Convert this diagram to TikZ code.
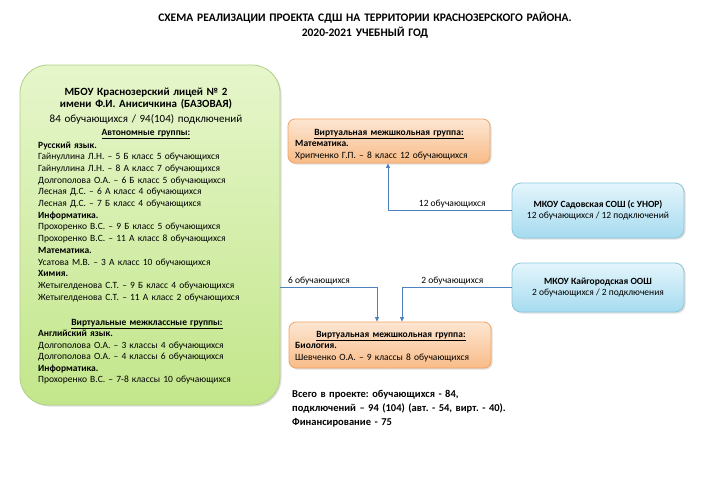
\documentclass[tikz,border=0pt]{standalone}
\usepackage{fontspec}
\setmainfont{Carlito}
\usetikzlibrary{shadows,arrows.meta}
\frenchspacing
\definecolor{grnTop}{HTML}{E6F6CB}
\definecolor{grnBot}{HTML}{C3E68B}
\definecolor{grnLine}{HTML}{B0D088}
\definecolor{orTop}{HTML}{FDE6D2}
\definecolor{orBot}{HTML}{F8BC88}
\definecolor{orLine}{HTML}{F3A261}
\definecolor{blTop}{HTML}{E4F5FC}
\definecolor{blBot}{HTML}{A6DBEF}
\definecolor{blLine}{HTML}{8CC6DA}
\definecolor{arrowBlue}{HTML}{4F81BD}
\begin{document}
\begin{tikzpicture}[x=1pt,y=-1pt,
  boxbase/.style={inner sep=0pt, line width=0.8pt,
    drop shadow={opacity=0.25, shadow xshift=1.5pt, shadow yshift=-1.5pt}},
  greenbox/.style={boxbase, draw=grnLine, top color=grnTop, bottom color=grnBot, rounded corners=28pt},
  orangebox/.style={boxbase, draw=orLine, top color=orTop, bottom color=orBot, rounded corners=7pt},
  bluebox/.style={boxbase, draw=blLine, top color=blTop, bottom color=blBot, rounded corners=9pt,
    align=center, font=\fontsize{9.5}{11}\selectfont},
  bodytext/.style={inner sep=0pt, anchor=base west, text width=240pt, align=left},
  centertext/.style={inner sep=0pt, anchor=base, text width=300pt, align=center},
  conn/.style={draw=arrowBlue, line width=0.8pt, -{Triangle[length=4.5pt,width=4pt]}},
  connlabel/.style={font=\fontsize{9.5}{11}\selectfont, inner sep=2pt}
]
\useasboundingbox (0,0) rectangle (715,480);

% Title
\node[centertext, text width=500pt, font=\bfseries\fontsize{11.5}{15}\selectfont] (title) at (365,21)
  {СХЕМА РЕАЛИЗАЦИИ ПРОЕКТА СДШ НА ТЕРРИТОРИИ КРАСНОЗЕРСКОГО РАЙОНА.\\2020-2021 УЧЕБНЫЙ ГОД};

% Boxes
\node[greenbox, minimum width=260pt, minimum height=340pt] (lyceum) at (150,235) {};
\node[orangebox, minimum width=202pt, minimum height=44pt] (topgrp) at (389,141) {};
\node[orangebox, minimum width=202pt, minimum height=46pt] (botgrp) at (390,345) {};
\node[bluebox, minimum width=172pt, minimum height=55pt] (sad) at (598,210.5)
  {\textbf{МКОУ Садовская СОШ (с УНОР)}\\12 обучающихся / 12 подключений};
\node[bluebox, minimum width=172pt, minimum height=49pt] (kai) at (598,287.5)
  {\textbf{МКОУ Кайгородская ООШ}\\2 обучающихся / 2 подключения};

% Lyceum header
\node[centertext, font=\bfseries\fontsize{11}{13}\selectfont] (h1) at (146,95) {МБОУ Краснозерский лицей № 2};
\node[centertext, font=\bfseries\fontsize{11}{13}\selectfont] (h2) at (146,107.5) {имени Ф.И. Анисичкина (БАЗОВАЯ)};
\node[centertext, font=\fontsize{11}{13}\selectfont] (h3) at (146,122.5) {84 обучающихся / 94(104) подключений};
\node[centertext, font=\bfseries\fontsize{9.5}{11}\selectfont] (h4) at (146,135) {\underline{Автономные группы:}};

\node[bodytext, font=\fontsize{9.5}{11.7}\selectfont] (autolist) at (38,148)
  {\textbf{Русский язык.}\\
   Гайнуллина Л.Н. – 5 Б класс 5 обучающихся\\
   Гайнуллина Л.Н. – 8 А класс 7 обучающихся\\
   Долгополова О.А. – 6 Б класс 5 обучающихся\\
   Лесная Д.С. – 6 А класс 4 обучающихся\\
   Лесная Д.С. – 7 Б класс 4 обучающихся\\
   \textbf{Информатика.}\\
   Прохоренко В.С. – 9 Б класс 5 обучающихся\\
   Прохоренко В.С. – 11 А класс 8 обучающихся\\
   \textbf{Математика.}\\
   Усатова М.В. – 3 А класс 10 обучающихся\\
   \textbf{Химия.}\\
   Жетыгелденова С.Т. – 9 Б класс 4 обучающихся\\
   Жетыгелденова С.Т. – 11 А класс 2 обучающихся};

\node[centertext, font=\bfseries\fontsize{9.5}{11}\selectfont] (h5) at (147,325) {\underline{Виртуальные межклассные группы:}};
\node[bodytext, font=\fontsize{9.5}{11.5}\selectfont] (virtlist) at (38,336.5)
  {\textbf{Английский язык.}\\
   Долгополова О.А. – 3 классы 4 обучающихся\\
   Долгополова О.А. – 4 классы 6 обучающихся\\
   \textbf{Информатика.}\\
   Прохоренко В.С. – 7-8 классы 10 обучающихся};

% Orange box texts
\node[centertext, font=\bfseries\fontsize{9.5}{11}\selectfont] (t1) at (389,135) {\underline{Виртуальная межшкольная группа:}};
\node[bodytext, font=\fontsize{9.5}{11.8}\selectfont] (t2) at (295,146.5)
  {\textbf{Математика.}\\Хрипченко Г.П. – 8 класс 12 обучающихся};
\node[centertext, font=\bfseries\fontsize{9.5}{11}\selectfont] (b1) at (391,337) {\underline{Виртуальная межшкольная группа:}};
\node[bodytext, font=\fontsize{9.5}{11.8}\selectfont] (b2) at (295,348.5)
  {\textbf{Биология.}\\Шевченко О.А. – 9 классы 8 обучающихся};

% Summary
\node[bodytext, text width=300pt, font=\bfseries\fontsize{10.5}{14}\selectfont] (summary) at (292,397.5)
  {Всего в проекте: обучающихся - 84,\\
   подключений – 94 (104) (авт. - 54, вирт. - 40).\\
   Финансирование - 75};

% Connectors
\draw[conn] (lyceum.east |- kai.west) -| node[connlabel, above, pos=0.2] {6 обучающихся} ([xshift=-13pt]botgrp.north);
\draw[conn] (kai.west) -| node[connlabel, above, pos=0.27] {2 обучающихся} ([xshift=12pt]botgrp.north);
\draw[conn] (sad.west) -| node[connlabel, above, pos=0.24] {12 обучающихся} ([xshift=-1pt]topgrp.south);
\end{tikzpicture}
\end{document}
